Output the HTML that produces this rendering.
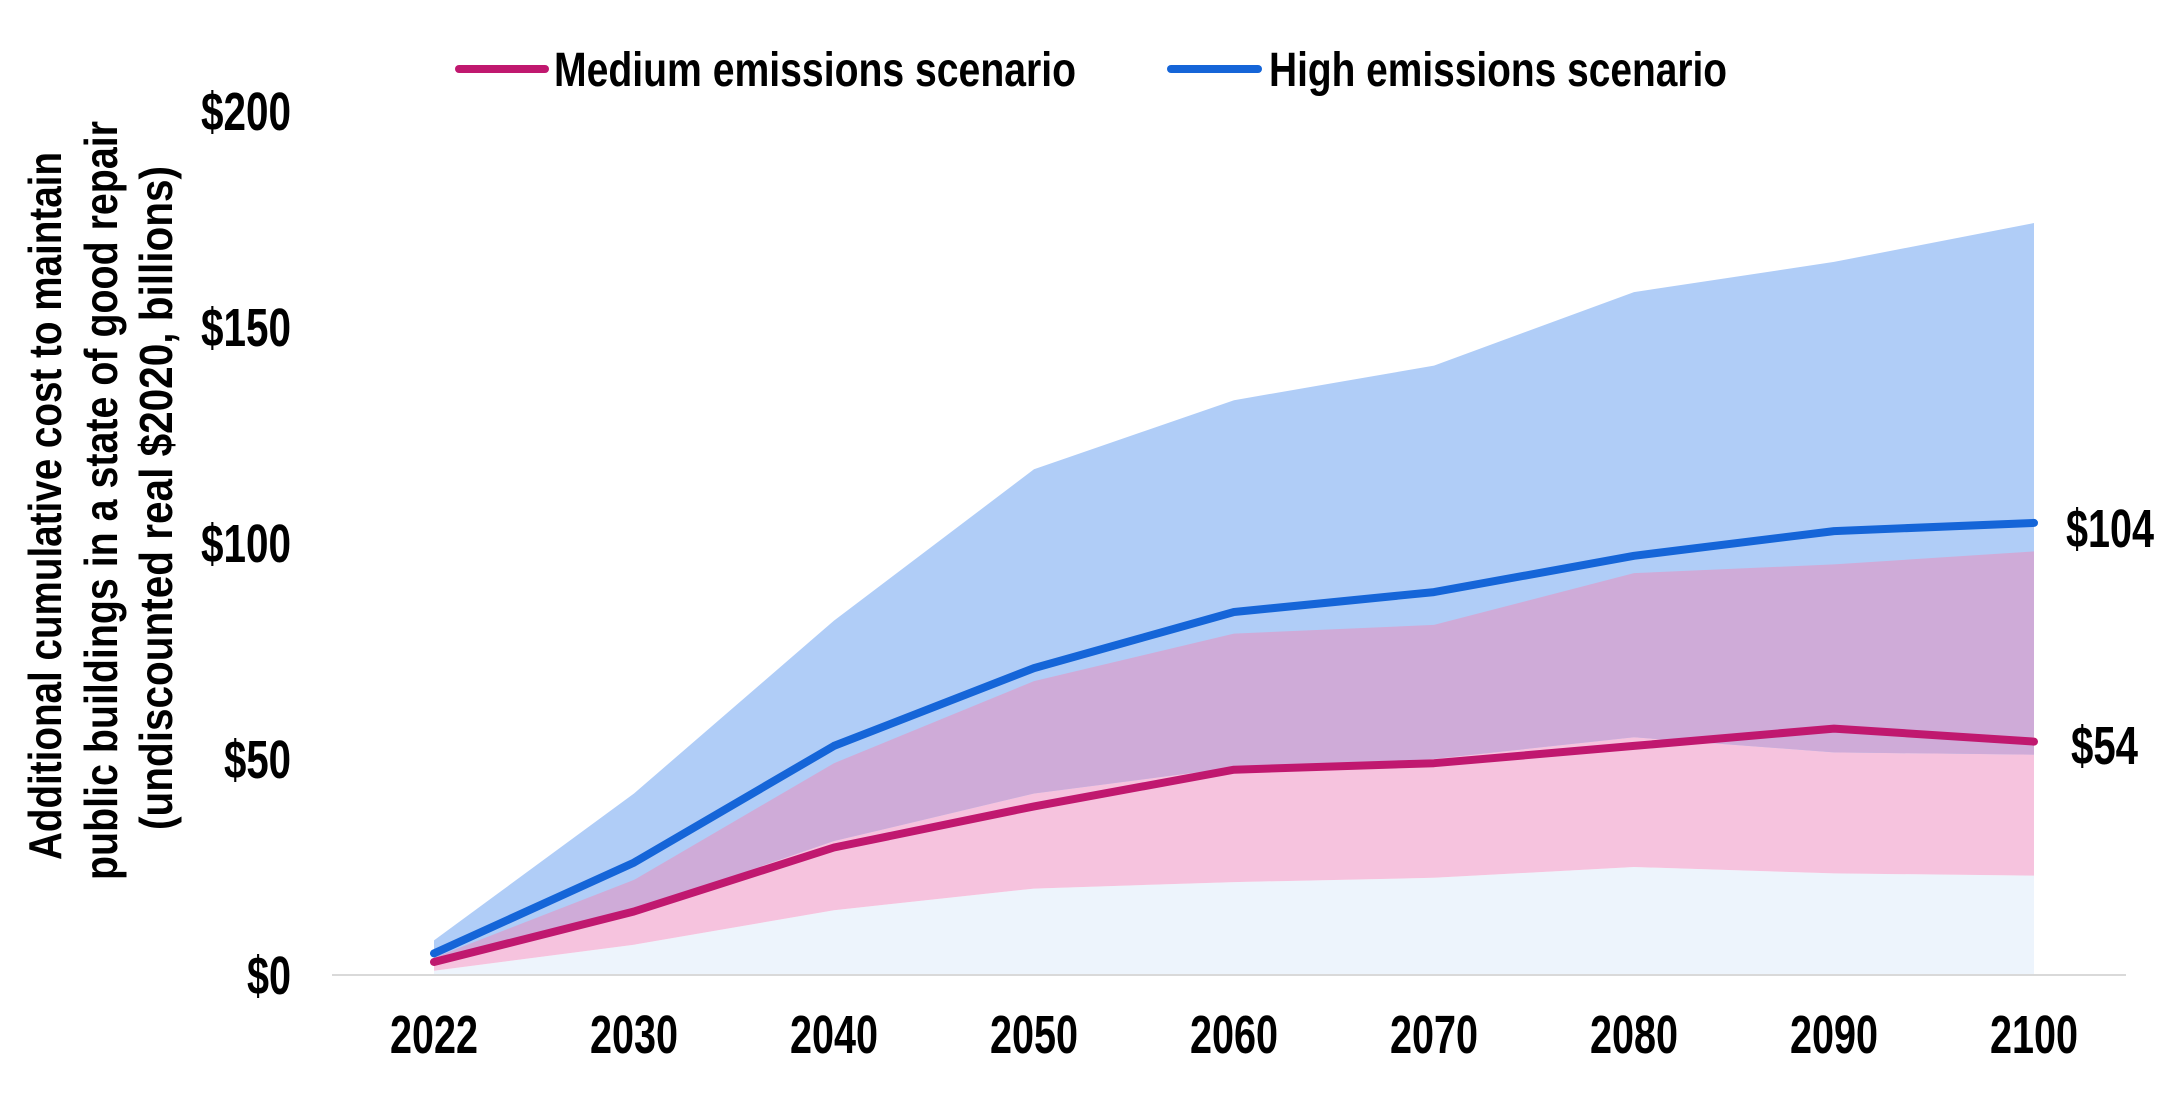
<!DOCTYPE html>
<html><head><meta charset="utf-8"><style>
html,body{margin:0;padding:0;background:#fff;}
svg{display:block;}
text{font-family:"Liberation Sans",Arial,sans-serif;font-weight:bold;fill:#000;}
</style></head><body>
<svg id="c" width="2168" height="1100" viewBox="0 0 2168 1100" xmlns="http://www.w3.org/2000/svg">
<g id="areas"></g>
<line x1="332" y1="975" x2="2126" y2="975" stroke="#d9d9d9" stroke-width="2"/>
<g id="lines"></g>
<g font-size="48">
<line x1="459" y1="69" x2="545" y2="69" stroke="#c0186f" stroke-width="8" stroke-linecap="round"/>
<text x="554" y="86" textLength="522" lengthAdjust="spacingAndGlyphs">Medium emissions scenario</text>
<line x1="1171" y1="69" x2="1258" y2="69" stroke="#1565d8" stroke-width="8" stroke-linecap="round"/>
<text x="1269" y="86" textLength="458" lengthAdjust="spacingAndGlyphs">High emissions scenario</text>
</g>
<g font-size="54">
<text x="201" y="130" textLength="90" lengthAdjust="spacingAndGlyphs">$200</text>
<text x="201" y="346" textLength="90" lengthAdjust="spacingAndGlyphs">$150</text>
<text x="201" y="562" textLength="90" lengthAdjust="spacingAndGlyphs">$100</text>
<text x="224" y="778" textLength="67" lengthAdjust="spacingAndGlyphs">$50</text>
<text x="247" y="994" textLength="44" lengthAdjust="spacingAndGlyphs">$0</text>
</g>
<g font-size="54">
<text x="390" y="1053" textLength="88" lengthAdjust="spacingAndGlyphs">2022</text>
<text x="590" y="1053" textLength="88" lengthAdjust="spacingAndGlyphs">2030</text>
<text x="790" y="1053" textLength="88" lengthAdjust="spacingAndGlyphs">2040</text>
<text x="990" y="1053" textLength="88" lengthAdjust="spacingAndGlyphs">2050</text>
<text x="1190" y="1053" textLength="88" lengthAdjust="spacingAndGlyphs">2060</text>
<text x="1390" y="1053" textLength="88" lengthAdjust="spacingAndGlyphs">2070</text>
<text x="1590" y="1053" textLength="88" lengthAdjust="spacingAndGlyphs">2080</text>
<text x="1790" y="1053" textLength="88" lengthAdjust="spacingAndGlyphs">2090</text>
<text x="1990" y="1053" textLength="88" lengthAdjust="spacingAndGlyphs">2100</text>
</g>
<text x="2066" y="547" font-size="54" textLength="88" lengthAdjust="spacingAndGlyphs">$104</text>
<text x="2071" y="764" font-size="54" textLength="67" lengthAdjust="spacingAndGlyphs">$54</text>
<g font-size="46">
<text transform="translate(61,860) rotate(-90)" textLength="708" lengthAdjust="spacingAndGlyphs">Additional cumulative cost to maintain</text>
<text transform="translate(117,880) rotate(-90)" textLength="759" lengthAdjust="spacingAndGlyphs">public buildings in a state of good repair</text>
<text transform="translate(172,830) rotate(-90)" textLength="664" lengthAdjust="spacingAndGlyphs">(undiscounted real $2020, billions)</text>
</g>
</svg>
<script>
var X=[0,1,2,3,4,5,6,7,8].map(function(i){return 434+200*i;});
function Y(v){return 975-4.322*v;}
var hiU=[8,42,82,117,133,141,158,165,174];
var hiL=[3,15,31,42,48,50,55,51.5,51];
var pU=[4,22,49,68,79,81,93,95,98];
var pL=[1,7,15,20,21.5,22.5,25,23.5,23];
var med=[3,14.7,29.5,39,47.5,49,53,57,54];
var hi=[5,26,53,71,84,88.6,97,102.7,104.6];
var zero=[0,0,0,0,0,0,0,0,0,0];
function band(lo,up,col){
 var p=[];for(var i=0;i<9;i++)p.push(X[i]+","+Y(up[i]).toFixed(1));
 for(var i=8;i>=0;i--)p.push(X[i]+","+Y(lo[i]).toFixed(1));
 return '<polygon points="'+p.join(" ")+'" fill="'+col+'"/>';
}
function line(d,col){
 var p=[];for(var i=0;i<9;i++)p.push(X[i]+","+Y(d[i]).toFixed(1));
 return '<polyline points="'+p.join(" ")+'" fill="none" stroke="'+col+'" stroke-width="8" stroke-linecap="round" stroke-linejoin="round"/>';
}
document.getElementById("areas").innerHTML=
 band(zero,pL,"#edf4fc")+band(pL,pU,"#f6c3de")+band(hiL,hiU,"#b0cdf7")+band(hiL,pU,"#cfabd8");
document.getElementById("lines").innerHTML=line(med,"#c0186f")+line(hi,"#1565d8");
</script>
</body></html>
